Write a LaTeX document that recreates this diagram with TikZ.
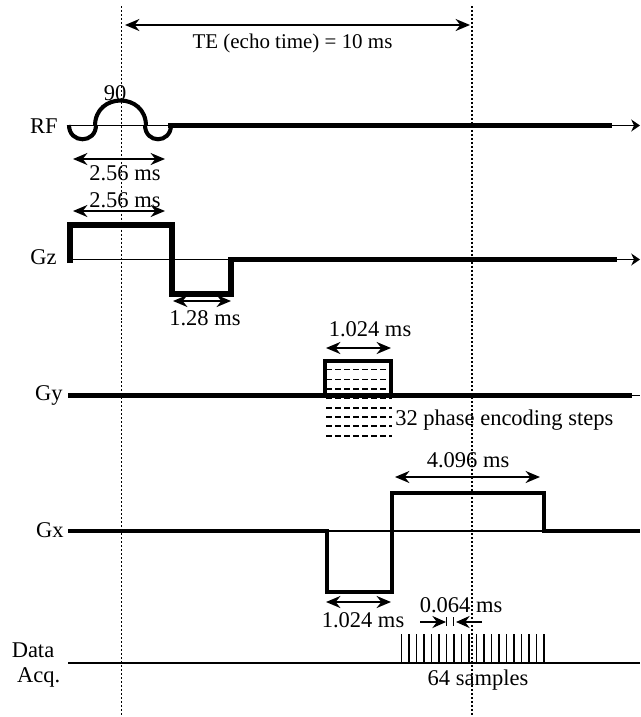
\documentclass[tikz,border=0pt]{standalone}
\usepackage{fontspec}
\setmainfont{Liberation Serif}
\usetikzlibrary{arrows.meta, positioning, calc}

\begin{document}
\begin{tikzpicture}[
    x=0.025cm, y=-0.025cm,
    font=\fontsize{16}{18}\selectfont,
    lbl/.style={inner sep=0pt},
    pulse/.style={line width=4.3pt, line cap=butt, line join=miter},
    lobe/.style={line width=2.9pt, line cap=butt},
    axisline/.style={line width=1.1pt},
    flowline/.style={line width=2.9pt},
    span/.style={{Stealth[length=3.6mm,width=3mm]}-{Stealth[length=3.6mm,width=3mm]}, line width=1.4pt},
    endtip/.style={-{Stealth[length=2.2mm,width=3mm]}, line width=1.1pt},
    guide/.style={line width=0.95pt, dash pattern=on 1.42pt off 1.42pt},
    stepline/.style={line width=1.3pt, dash pattern=on 4.4pt off 2pt},
    tickline/.style={line width=1.1pt},
]
\useasboundingbox (0,0) rectangle (640,717);

% ============ guides and echo time ============
\draw[guide] (121.5,6) -- (121.5,717);
\draw[guide] (472,6) -- (472,717);
\draw[span] (125,25) -- (470,25);
\node[lbl, font=\fontsize{14.9}{18}\selectfont] (te) at (292.5,43) {TE (echo time) = 10 ms};

% ============ RF ============
\node[lbl, anchor=east] (rf) at (58,126) {RF};
\node[lbl] (flip) at (115,93) {90};
\draw[axisline] (68,125.5) -- (168,125.5);
\draw[lobe] (69,125) .. controls (69,144) and (96,144) .. (96,125);
\draw[lobe] (95,126) .. controls (95,92) and (146,92) .. (146,126);
\draw[lobe] (145,125) .. controls (145,144) and (171,144) .. (171,125);
\draw[flowline] (168,125.5) -- (612,125.5);
\draw[endtip] (612,125.5) -- (640,125.5);
\draw[span] (73,159) -- (165,159);
\node[lbl] (rfwidth) at (125,173) {2.56 ms};

% ============ Gz ============
\node[lbl, anchor=east] (gz) at (57,257) {Gz};
\node[lbl] (gzwidth) at (125,200) {2.56 ms};
\draw[span] (73,211) -- (165,211);
\draw[axisline] (70,259.5) -- (231,259.5);
\draw[pulse] (70,263) -- (70,225) -- (172,225) -- (172,294) -- (231,294) -- (231,257);
\draw[flowline] (231,259.5) -- (617,259.5);
\draw[endtip] (617,259.5) -- (640,259.5);
\draw[span] (173,301) -- (231,301);
\node[lbl] (gzrewind) at (205,318) {1.28 ms};

% ============ Gy ============
\node[lbl, anchor=east] (gy) at (63,395) {Gy};
\node[lbl] (gywidth) at (370,329) {1.024 ms};
\draw[span] (326,348) -- (391,348);
\foreach \yy in {369.5,379.5,388.7,398,407.7,416.7,425.7,435.7}
    \draw[stepline] (326,\yy) -- (392,\yy);
\draw[flowline] (68,395.5) -- (632,395.5);
\draw[axisline] (632,395.5) -- (640,395.5);
\draw[line width=2.9pt] (325,397) -- (325,361) -- (391,361) -- (391,397);
\node[lbl, anchor=west] (steps) at (395,420) {32 phase encoding steps};

% ============ Gx ============
\node[lbl, anchor=east] (gx) at (64,530) {Gx};
\node[lbl] (gxread) at (468,460) {4.096 ms};
\draw[span] (395,477) -- (540,477);
\draw[axisline] (327,531) -- (544,531);
\draw[flowline, line join=miter] (68,531) -- (327,531) -- (327,592) -- (392,592) -- (392,493) -- (544,493) -- (544,531) -- (640,531);
\draw[span] (326,602) -- (391,602);
\node[lbl] (gxwidth) at (363,620) {1.024 ms};

% ============ Data Acq. ============
\node[lbl] (data) at (33,650) {Data};
\node[lbl, below=7pt of data.south, xshift=4pt] (acq) {Acq.};
\node[lbl] (dwell) at (461,605) {0.064 ms};
\draw[-{Stealth[length=3.4mm,width=3mm]}, line width=1.4pt] (420,622) -- (446,622);
\draw[-{Stealth[length=3.4mm,width=3mm]}, line width=1.4pt] (482,622) -- (456,622);
\draw[tickline] (446.7,617) -- (446.7,626);
\draw[tickline] (453.3,617) -- (453.3,626);
\foreach \i in {0,...,19}
    \draw[tickline] ({401.5+\i*7.5},634) -- ({401.5+\i*7.5},663);
\draw[line width=1.4pt] (68,663) -- (640,663);
\node[lbl] (samples) at (478,680) {64 samples};

\end{tikzpicture}
\end{document}
